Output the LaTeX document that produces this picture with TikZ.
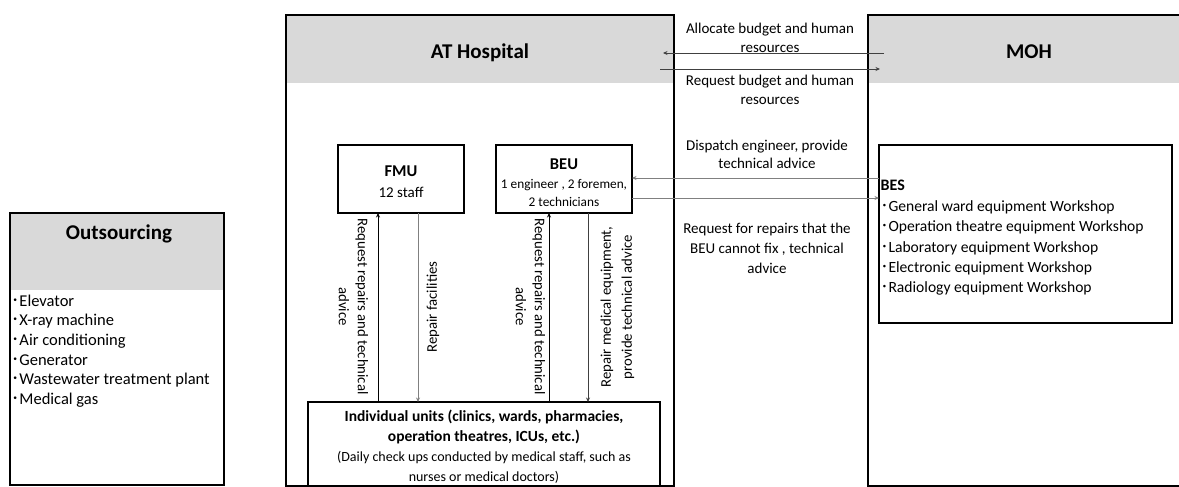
\documentclass[tikz,border=0pt]{standalone}
\usepackage{fontspec}
\setmainfont{Carlito}
\newfontfamily\cjk{Noto Sans CJK JP}
\usetikzlibrary{arrows.meta}
\definecolor{hdr}{HTML}{D9D9D9}
\definecolor{lndark}{HTML}{404040}
\definecolor{lngray}{HTML}{808080}
\newcommand\fs[2]{\fontsize{#1}{#2}\selectfont}
\newcommand\kd{{\cjk ･}}
\begin{document}
\begin{tikzpicture}[x=1pt,y=-1pt,
  box/.style={draw=black, line width=1.6pt, inner sep=0pt, outer sep=0pt, anchor=north west},
  thinbox/.style={draw=black, line width=1.1pt, inner sep=0pt, outer sep=0pt, anchor=north west},
  ttl/.style={font=\fs{21}{25}\bfseries, inner sep=0pt, anchor=base},
  lbl/.style={font=\fs{15}{19}, align=center, inner sep=0pt},
  rlbl/.style={font=\fs{14.75}{19}, align=center, inner sep=0pt},
  arr/.style={line width=0.8pt, -{Stealth[length=4.5pt,width=4pt]}}
]
\useasboundingbox (0,0) rectangle (1179,487);
\begin{scope}
\clip (0,0) rectangle (1179,487);
% header fills
\fill[hdr] (10,213) rectangle (224,290);
\fill[hdr] (286,15) rectangle (674,83);
\fill[hdr] (868,15) rectangle (1195,83);
% big boxes
\node[box, minimum width=214pt, minimum height=272pt] (out) at (10,213) {};
\node[box, minimum width=388pt, minimum height=471pt] (at) at (286,15) {};
\node[box, minimum width=322pt, minimum height=471pt] (moh) at (868,15) {};
% titles
\node[ttl] (outT) at (119,239) {Outsourcing};
\node[ttl] (atT) at (480,59) {AT Hospital};
\node[ttl] (mohT) at (1029,59) {MOH};
% outsourcing items
\node[font=\fs{16.5}{19.6}, align=left, inner sep=0pt, anchor=west] (outL) at (11,351)
  {\kd Elevator\\ \kd X-ray machine\\ \kd Air conditioning\\ \kd Generator\\ \kd Wastewater treatment plant\\ \kd Medical gas};
% inner boxes
\node[thinbox, minimum width=126pt, minimum height=68pt] (fmu) at (338,145) {};
\node[thinbox, minimum width=136pt, minimum height=68pt] (beu) at (496,145) {};
\node[thinbox, minimum width=293pt, minimum height=178pt] (bes) at (879,145) {};
\node[box, minimum width=352pt, minimum height=84pt] (units) at (308,402) {};
% inner box texts
\node[align=center, inner sep=0pt, font=\fs{15}{21}] (fmuT) at (401,182) {{\fs{16.5}{21}\bfseries FMU}\\12 staff};
\node[align=center, inner sep=0pt, font=\fs{13.3}{18.5}] (beuT) at (564,183) {{\fs{16.5}{20}\bfseries BEU}\\1 engineer , 2 foremen,\\2 technicians};
\node[align=left, inner sep=0pt, font=\fs{15.6}{20.4}, anchor=west] (besT) at (880.5,238)
  {{\fs{16}{20.4}\bfseries BES}\\ \kd General ward equipment Workshop\\ \kd Operation theatre equipment Workshop\\ \kd Laboratory equipment Workshop\\ \kd Electronic equipment Workshop\\ \kd Radiology equipment Workshop};
\node[align=center, inner sep=0pt, font=\fs{14}{20}] (unitsT) at (484,446.5)
  {{\fs{15.5}{21}\bfseries Individual units (clinics, wards, pharmacies,}\\{\fs{15.5}{21}\bfseries operation theatres, ICUs, etc.)}\\(Daily check ups conducted by medical staff, such as\\nurses or medical doctors)};
% arrow labels
\node[lbl] (allocT) at (770,37.5) {Allocate budget and human\\resources};
\node[lbl] (reqT) at (770,89.5) {Request budget and human\\resources};
\node[lbl, font=\fs{15}{18}] (dispT) at (767,154) {Dispatch engineer, provide\\technical advice};
\node[lbl, font=\fs{15}{20}] (reqbesT) at (767,248) {Request for repairs that the\\BEU cannot fix , technical\\advice};
\node[rlbl, rotate=-90] (fmuReqT) at (353.5,306.5) {Request repairs and technical\\advice};
\node[rlbl, rotate=90] (fmuRepT) at (433,307) {Repair facilities};
\node[rlbl, rotate=-90] (beuReqT) at (530.5,306.5) {Request repairs and technical\\advice};
\node[rlbl, font=\fs{14.75}{21}, rotate=90] (beuRepT) at (617.5,307) {Repair medical equipment,\\provide technical advice};
% connector coordinates
\coordinate (alS) at (884,53);
\coordinate (alE) at (663,53);
\coordinate (rqS) at (660,69);
\coordinate (rqE) at (880,69);
\coordinate (yd) at (0,178);
\coordinate (yr) at (0,198);
\coordinate (xf1) at (378,0);
\coordinate (xf2) at (418,0);
\coordinate (xb1) at (549,0);
\coordinate (xb2) at (588,0);
% connectors
\draw[arr, lndark] (alS) -- (alE);
\draw[arr, lndark] (rqS) -- (rqE);
\draw[arr, lngray] (bes.west |- yd) -- (beu.east |- yd);
\draw[arr, lngray] (beu.east |- yr) -- (bes.west |- yr);
\draw[arr, black] (units.north -| xf1) -- (fmu.south -| xf1);
\draw[arr, lngray] (fmu.south -| xf2) -- (units.north -| xf2);
\draw[arr, black] (units.north -| xb1) -- (beu.south -| xb1);
\draw[arr, lndark] (beu.south -| xb2) -- (units.north -| xb2);
\end{scope}
\end{tikzpicture}
\end{document}
